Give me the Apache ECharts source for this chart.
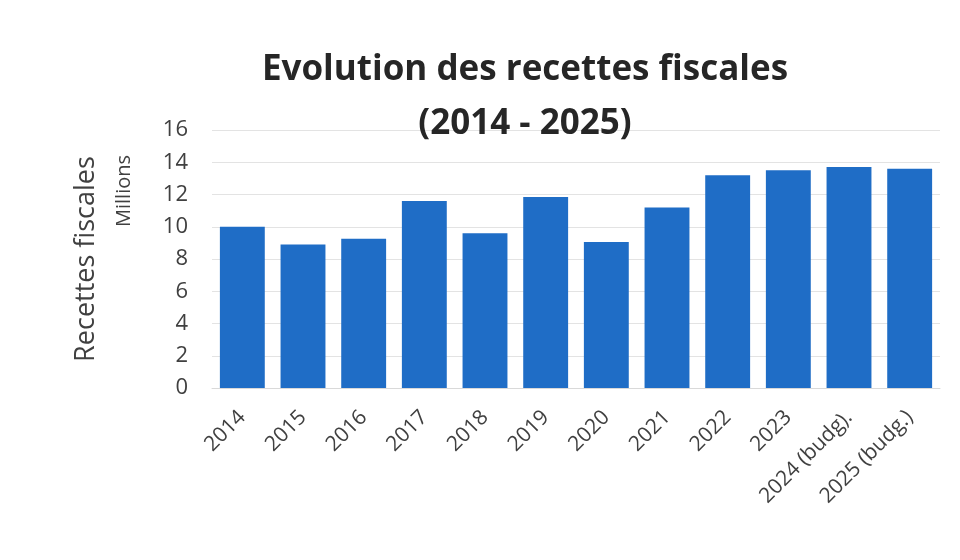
<!DOCTYPE html>
<html><head><meta charset="utf-8">
<script src="https://cdn.jsdelivr.net/npm/echarts@6/dist/echarts.min.js"></script>
<style>html,body{margin:0;padding:0;background:#fff}#c{width:960px;height:560px}</style>
</head><body><div id="c"></div>
<script>
const categories = ['2014','2015','2016','2017','2018','2019','2020','2021','2022','2023','2024 (budg).','2025 (budg.)'];
const recettes = [10.0, 8.9, 9.25, 11.6, 9.6, 11.85, 9.05, 11.2, 13.2, 13.5, 13.7, 13.6];
const yTicks = {min: 0, max: 16, interval: 2};

const chart = echarts.init(document.getElementById('c'));
chart.setOption({
  backgroundColor: '#fff',
  animation: false,
  title: {
    text: 'Evolution des recettes fiscales\n(2014 - 2025)',
    left: 520, top: 38, textAlign: 'center',
    textStyle: {fontFamily: 'Open Sans', fontWeight: 'bold', fontSize: 35, color: '#262626', lineHeight: 54}
  },
  graphic: [{
    type: 'text', x: 124, y: 191, rotation: Math.PI/2,
    style: {text: 'Millions', fontFamily: 'Open Sans', fontSize: 20, fill: '#404040', align: 'center', verticalAlign: 'middle'}
  }],
  grid: {left: 212, right: 20, top: 130, bottom: 172},
  xAxis: {
    type: 'category', data: categories,
    axisLine: {show: true, lineStyle: {color: '#d9d9d9'}},
    axisTick: {show: false},
    axisLabel: {rotate: 45, fontFamily: 'Open Sans', fontSize: 21, color: '#404040', margin: 26, interval: 0}
  },
  yAxis: {
    type: 'value', min: yTicks.min, max: yTicks.max, interval: yTicks.interval,
    name: 'Recettes fiscales', nameLocation: 'middle', nameGap: 112,
    nameTextStyle: {fontFamily: 'Open Sans', fontSize: 27, color: '#404040'},
    axisLine: {show: false}, axisTick: {show: false},
    axisLabel: {fontFamily: 'Open Sans', fontSize: 22, color: '#404040', margin: 24},
    splitLine: {lineStyle: {color: '#e3e3e3'}}
  },
  series: [{
    type: 'bar', data: recettes, barCategoryGap: '26%',
    itemStyle: {color: '#1f6dc6'}
  }]
});
</script></body></html>
